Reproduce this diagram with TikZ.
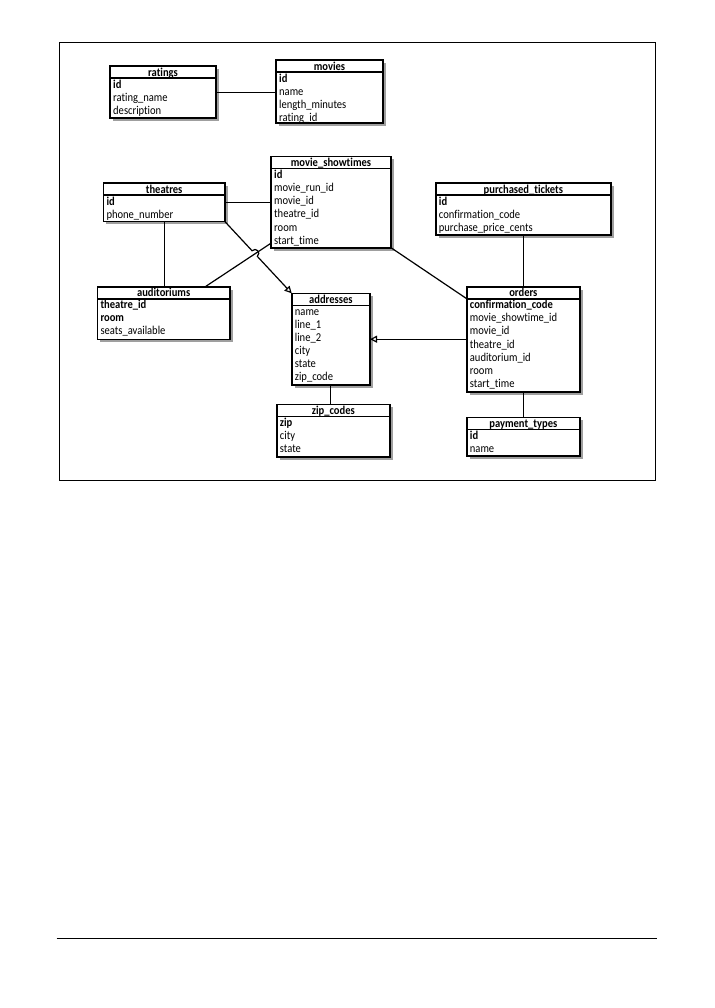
\documentclass[tikz,border=0pt]{standalone}
\usepackage{fontspec}
\setmainfont{Carlito}[Ligatures=NoCommon, FakeStretch=0.88]
\usetikzlibrary{calc,arrows.meta,shadows}
\tikzset{
  tbl/.style={draw, line width=1.6pt, fill=white, inner sep=0pt, outer sep=0pt, anchor=north west,
    drop shadow={shadow xshift=2.8pt, shadow yshift=-2.8pt, fill=black!75}},
  hdr/.style={line width=1.6pt},
  ttl/.style={font=\fontsize{12}{13}\selectfont\bfseries, anchor=base, inner sep=0pt},
  fld/.style={font=\fontsize{12}{13}\selectfont, anchor=base west, inner sep=0pt},
  key/.style={fld, font=\fontsize{12}{13}\selectfont\bfseries},
  conn/.style={line width=1.2pt},
  fkarrow/.style={conn, -{Triangle[open, length=7pt, width=7pt]}},
  frameline/.style={line width=1pt}
}
\newcommand{\erbox}[6]{%
  \node[tbl, minimum width=#4pt, minimum height=#5pt] (#1) at (#2,#3) {};
  \draw[hdr] ($(#1.north west)+(0,12)$) -- ($(#1.north east)+(0,12)$);
  \node[ttl] at ($(#1.north)+(0,10)$) {#6};}
\newcommand{\erow}[4][fld]{%
  \node[#1] at ($(#2.north west)+(3,{12+10+13.1*(#3-1)})$) {#4};}
\begin{document}
\begin{tikzpicture}[x=1pt,y=-1pt]
\useasboundingbox (0,0) rectangle (714,1008);
% frame and rule
\draw[frameline] (59.3,42.3) rectangle (655.3,480.3);
\draw[frameline] (56.7,938.3) -- (656.7,938.3);

% tables
\erbox{ratings}{110}{66.3}{106}{52}{ratings}
\erow[key]{ratings}{1}{id}
\erow{ratings}{2}{rating\_name}
\erow{ratings}{3}{description}

\erbox{movies}{276}{60.3}{107}{63}{movies}
\erow[key]{movies}{1}{id}
\erow{movies}{2}{name}
\erow{movies}{3}{length\_minutes}
\erow{movies}{4}{rating\_id}

\erbox{showtimes}{271}{156.7}{120}{91}{movie\_showtimes}
\erow[key]{showtimes}{1}{id}
\erow{showtimes}{2}{movie\_run\_id}
\erow{showtimes}{3}{movie\_id}
\erow{showtimes}{4}{theatre\_id}
\erow{showtimes}{5}{room}
\erow{showtimes}{6}{start\_time}

\erbox{theatres}{103.3}{183.3}{121.7}{38.4}{theatres}
\erow[key]{theatres}{1}{id}
\erow{theatres}{2}{phone\_number}

\erbox{tickets}{435.7}{183.3}{175.3}{51.7}{purchased\_tickets}
\erow[key]{tickets}{1}{id}
\erow{tickets}{2}{confirmation\_code}
\erow{tickets}{3}{purchase\_price\_cents}

\erbox{auditoriums}{97.3}{286.7}{132.7}{52.6}{auditoriums}
\erow[key]{auditoriums}{1}{theatre\_id}
\erow[key]{auditoriums}{2}{room}
\erow{auditoriums}{3}{seats\_available}

\erbox{addresses}{291.7}{293.3}{78.3}{91.7}{addresses}
\erow{addresses}{1}{name}
\erow{addresses}{2}{line\_1}
\erow{addresses}{3}{line\_2}
\erow{addresses}{4}{city}
\erow{addresses}{5}{state}
\erow{addresses}{6}{zip\_code}

\erbox{orders}{466.7}{286.7}{113.3}{105}{orders}
\erow[key]{orders}{1}{confirmation\_code}
\erow{orders}{2}{movie\_showtime\_id}
\erow{orders}{3}{movie\_id}
\erow{orders}{4}{theatre\_id}
\erow{orders}{5}{auditorium\_id}
\erow{orders}{6}{room}
\erow{orders}{7}{start\_time}

\erbox{zipcodes}{276.7}{404.3}{113.3}{52.4}{zip\_codes}
\erow[key]{zipcodes}{1}{zip}
\erow{zipcodes}{2}{city}
\erow{zipcodes}{3}{state}

\erbox{payment}{466.7}{417.3}{113.3}{38.7}{payment\_types}
\erow[key]{payment}{1}{id}
\erow{payment}{2}{name}

% connectors
\draw[conn] (ratings.east) -- (ratings.east -| movies.west);
\draw[conn] (theatres.east) -- (theatres.east -| showtimes.west);
\draw[conn] (theatres.south) -- (theatres.south |- auditoriums.north);
\coordinate (audtop) at ($(auditoriums.north west)+(108,0)$);
\coordinate (stleft) at ($(showtimes.south west)+(0,-4.5)$);
\draw[conn] (audtop) -- (stleft);
\coordinate (ta) at (theatres.south east);
\coordinate (tb) at (addresses.north west);
\coordinate (h1) at ($(ta)!0.405!(tb)$);
\coordinate (h2) at ($(ta)!0.485!(tb)$);
\draw[fkarrow] (ta) -- (h1) .. controls ($(h1)!5.5pt!90:(tb)$) and ($(h2)!5.5pt!-90:(ta)$) .. (h2) -- (tb);
\draw[conn] (showtimes.south east) -- ($(orders.north west)+(0,12)$);
\draw[conn] (tickets.south) -- (orders.north);
\draw[fkarrow] (orders.west) -- (orders.west -| addresses.east);
\draw[conn] (addresses.south) -- (addresses.south |- zipcodes.north);
\draw[conn] (orders.south) -- (payment.north);
\end{tikzpicture}
\end{document}
